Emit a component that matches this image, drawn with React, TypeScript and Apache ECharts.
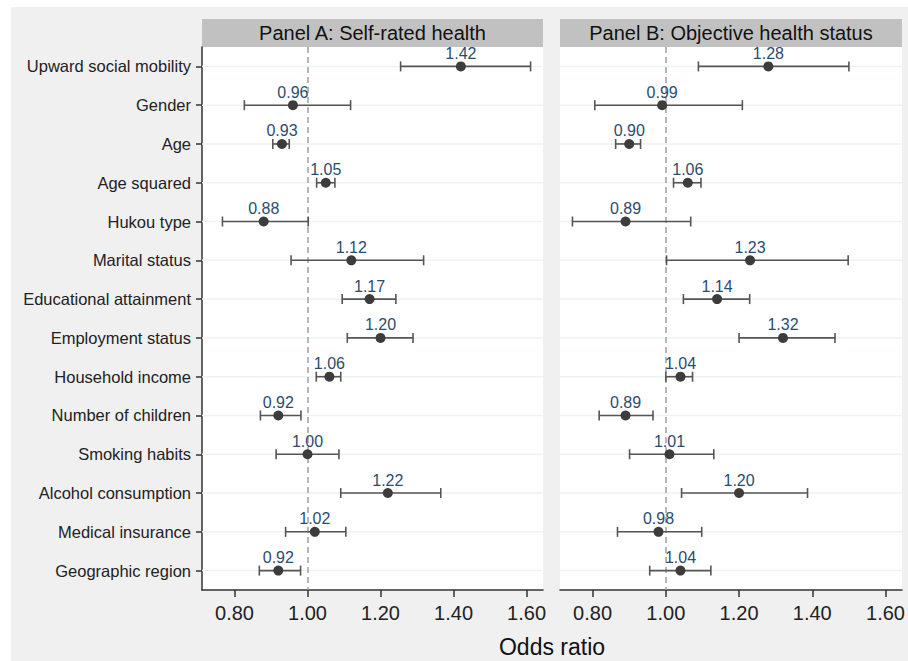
import React, { useEffect, useRef } from "react";
import * as echarts from "echarts";

const categories = [
  "Upward social mobility",
  "Gender",
  "Age",
  "Age squared",
  "Hukou type",
  "Marital status",
  "Educational attainment",
  "Employment status",
  "Household income",
  "Number of children",
  "Smoking habits",
  "Alcohol consumption",
  "Medical insurance",
  "Geographic region",
];

const orA = [1.42, 0.96, 0.93, 1.05, 0.88, 1.12, 1.17, 1.2, 1.06, 0.92, 1.0, 1.22, 1.02, 0.92];
const lowA = [1.255, 0.827, 0.905, 1.025, 0.767, 0.955, 1.095, 1.109, 1.024, 0.871, 0.914, 1.091, 0.94, 0.868];
const highA = [1.611, 1.118, 0.95, 1.075, 1.002, 1.318, 1.242, 1.289, 1.091, 0.982, 1.086, 1.365, 1.105, 0.981];

const orB = [1.28, 0.99, 0.9, 1.06, 0.89, 1.23, 1.14, 1.32, 1.04, 0.89, 1.01, 1.2, 0.98, 1.04];
const lowB = [1.089, 0.806, 0.863, 1.021, 0.745, 1.002, 1.048, 1.2, 1.0, 0.818, 0.901, 1.043, 0.868, 0.956];
const highB = [1.5, 1.209, 0.931, 1.096, 1.068, 1.498, 1.229, 1.462, 1.073, 0.965, 1.131, 1.387, 1.098, 1.123];

const xTicks = [0.8, 1.0, 1.2, 1.4, 1.6];
const panelTitles = ["Panel A: Self-rated health", "Panel B: Objective health status"];
const xTitle = "Odds ratio";

const FONT = "'Liberation Sans', Arial, sans-serif";

export default function App() {
  const ref = useRef<HTMLDivElement>(null);

  useEffect(() => {
    document.body.style.margin = "0";
    if (!ref.current) return;
    const chart = echarts.init(ref.current, undefined, { renderer: "svg" });

    const grids = [
      { left: 202, top: 47, width: 341, height: 543 },
      { left: 560, top: 47, width: 342, height: 543 },
    ];

    const xAxisFor = (gi: number) => ({
      type: "value",
      gridIndex: gi,
      min: 0.711,
      max: 1.645,
      axisLine: { show: true, lineStyle: { color: "#333", width: 1.5 } },
      axisTick: { show: true, length: 7, lineStyle: { color: "#333", width: 1.5 }, customValues: xTicks },
      axisLabel: {
        customValues: xTicks,
        formatter: (v: number) => v.toFixed(2),
        fontSize: 20,
        color: "#222",
        fontFamily: FONT,
        margin: 13,
      },
      splitLine: { show: false },
    });

    const yAxisFor = (gi: number) => ({
      type: "category",
      gridIndex: gi,
      data: categories,
      inverse: true,
      axisLine: { show: gi === 0, lineStyle: { color: "#333", width: 1.5 } },
      axisTick: { show: gi === 0, length: 6, alignWithLabel: true, lineStyle: { color: "#333", width: 1.5 } },
      axisLabel: {
        show: gi === 0,
        fontSize: 16.5,
        color: "#222",
        fontFamily: FONT,
        margin: 11,
      },
      splitLine: { show: false },
    });

    const gridLineSeries = (gi: number) => ({
      type: "custom",
      xAxisIndex: gi,
      yAxisIndex: gi,
      silent: true,
      z: 1,
      encode: { x: 0, y: 1 },
      data: categories.map((_, i) => [1, i]),
      renderItem: (params: any, api: any) => {
        const cs = params.coordSys;
        const p = api.coord([1, api.value(1)]);
        return {
          type: "line",
          shape: { x1: cs.x, y1: p[1], x2: cs.x + cs.width, y2: p[1] },
          style: { stroke: "#edf2f3", lineWidth: 1.5 },
        };
      },
    });

    const errorSeries = (gi: number, low: number[], high: number[]) => ({
      type: "custom",
      xAxisIndex: gi,
      yAxisIndex: gi,
      silent: true,
      z: 3,
      encode: { x: [0, 1], y: 2 },
      data: low.map((l, i) => [l, high[i], i]),
      renderItem: (params: any, api: any) => {
        const yi = api.value(2);
        const p1 = api.coord([api.value(0), yi]);
        const p2 = api.coord([api.value(1), yi]);
        const h = 5;
        const st = { stroke: "#555", lineWidth: 1.6 };
        return {
          type: "group",
          children: [
            { type: "line", shape: { x1: p1[0], y1: p1[1], x2: p2[0], y2: p2[1] }, style: st },
            { type: "line", shape: { x1: p1[0], y1: p1[1] - h, x2: p1[0], y2: p1[1] + h }, style: st },
            { type: "line", shape: { x1: p2[0], y1: p2[1] - h, x2: p2[0], y2: p2[1] + h }, style: st },
          ],
        };
      },
    });

    const pointSeries = (gi: number, or: number[]) => ({
      type: "scatter",
      xAxisIndex: gi,
      yAxisIndex: gi,
      z: 4,
      symbol: "circle",
      symbolSize: 10,
      itemStyle: { color: "#3c3c3c", opacity: 1 },
      data: or.map((v, i) => [v, i]),
      label: {
        show: true,
        position: "top",
        distance: 0,
        formatter: (p: any) => Number(p.value[0]).toFixed(2),
        fontSize: 16,
        color: "#2b4c6e",
        fontFamily: FONT,
      },
      markLine: {
        silent: true,
        symbol: "none",
        label: { show: false },
        lineStyle: { color: "#a0a0a0", width: 1.5, type: [6, 4] },
        data: [{ xAxis: 1 }],
        z: 2,
      },
    });

    const headerGraphics: any[] = [];
    grids.forEach((g, i) => {
      headerGraphics.push({
        type: "rect",
        shape: { x: g.left, y: 19, width: g.width, height: 28 },
        style: { fill: "#c1c1c1" },
        silent: true,
      });
      headerGraphics.push({
        type: "text",
        x: g.left + g.width / 2,
        y: 33,
        style: {
          text: panelTitles[i],
          fontSize: 20,
          fontFamily: FONT,
          fill: "#111",
          align: "center",
          verticalAlign: "middle",
        },
        silent: true,
      });
    });

    chart.setOption({
      animation: false,
      backgroundColor: "#f0f0f0",
      grid: grids.map((g) => ({ ...g, show: true, backgroundColor: "#ffffff", borderWidth: 0 })),
      xAxis: [xAxisFor(0), xAxisFor(1)],
      yAxis: [yAxisFor(0), yAxisFor(1)],
      series: [
        gridLineSeries(0),
        gridLineSeries(1),
        errorSeries(0, lowA, highA),
        errorSeries(1, lowB, highB),
        pointSeries(0, orA),
        pointSeries(1, orB),
      ],
      graphic: [
        { type: "rect", shape: { x: 0, y: 0, width: 908, height: 7 }, style: { fill: "#ffffff" }, silent: true },
        { type: "rect", shape: { x: 0, y: 0, width: 11, height: 661 }, style: { fill: "#ffffff" }, silent: true },
        ...headerGraphics,
        {
          type: "text",
          x: 552,
          y: 647,
          style: {
            text: xTitle,
            fontSize: 23,
            fontFamily: FONT,
            fill: "#111",
            align: "center",
            verticalAlign: "middle",
          },
          silent: true,
        },
      ],
    });

    return () => chart.dispose();
  }, []);

  return <div ref={ref} style={{ width: 908, height: 661 }} />;
}
